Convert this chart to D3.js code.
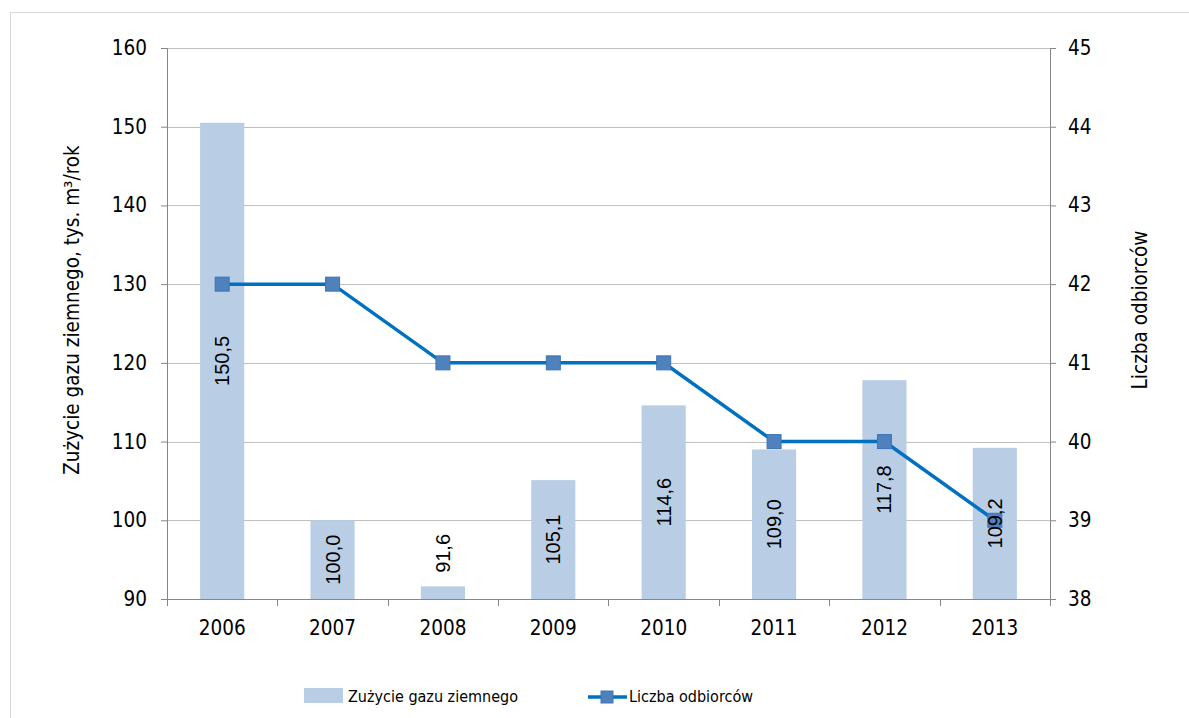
<!DOCTYPE html>
<html>
<head>
<meta charset="utf-8">
<script src="https://cdn.jsdelivr.net/npm/d3@7/dist/d3.min.js"></script>
<style>
  body { margin: 0; background: #fff; }
  svg { display: block; }
  .tick-label { font-family: "DejaVu Sans Condensed", "DejaVu Sans", Verdana, sans-serif; font-stretch: condensed; font-size: 20.5px; fill: #000; }
  .axis-title { font-family: "DejaVu Sans Condensed", "DejaVu Sans", Verdana, sans-serif; font-stretch: condensed; font-size: 20.5px; fill: #000; }
  .legend-label { font-family: "DejaVu Sans Condensed", "DejaVu Sans", Verdana, sans-serif; font-stretch: condensed; font-size: 16px; fill: #000; }
  .data-label { font-family: "Liberation Sans", Arial, sans-serif; font-size: 20px; fill: #000; }
</style>
</head>
<body>
<svg id="chart" width="1189" height="718"></svg>
<script>
// chart data
const years = ['2006', '2007', '2008', '2009', '2010', '2011', '2012', '2013'];
const gasUsage = [150.5, 100.0, 91.6, 105.1, 114.6, 109.0, 117.8, 109.2];
const customers = [42, 42, 41, 41, 41, 40, 40, 39];
const leftTicks = [90, 100, 110, 120, 130, 140, 150, 160];
const rightTicks = [38, 39, 40, 41, 42, 43, 44, 45];

const barColor = '#B9CDE5';
const lineColor = '#0070C0';
const markerFill = '#4F81BD';
const gridColor = '#C0C0C0';
const axisColor = '#868686';

const margin = { top: 48, right: 139, bottom: 119, left: 167 };
const W = 1189, H = 718;
const plotW = W - margin.left - margin.right;
const plotH = H - margin.top - margin.bottom;

const svg = d3.select('#chart');

// outer frame
svg.append('rect')
    .attr('x', 10.5).attr('y', 12.5)
    .attr('width', W + 20).attr('height', H + 20)
    .attr('fill', 'none')
    .attr('stroke', '#D9D9D9');

const g = svg.append('g')
    .attr('transform', `translate(${margin.left},${margin.top})`);

const x = d3.scaleBand()
    .domain(years)
    .range([0, plotW])
    .paddingInner(0.6)
    .paddingOuter(0.3);

const yLeft = d3.scaleLinear().domain([90, 160]).range([plotH, 0]);
const yRight = d3.scaleLinear().domain([38, 45]).range([plotH, 0]);

// gridlines
g.append('g')
    .selectAll('line')
    .data(leftTicks.slice(1))
    .join('line')
    .attr('x1', 0).attr('x2', plotW)
    .attr('y1', d => Math.round(yLeft(d)) + 0.5)
    .attr('y2', d => Math.round(yLeft(d)) + 0.5)
    .attr('stroke', gridColor);

// bars
g.append('g')
    .selectAll('rect')
    .data(gasUsage)
    .join('rect')
    .attr('x', (d, i) => x(years[i]))
    .attr('y', d => yLeft(d))
    .attr('width', x.bandwidth())
    .attr('height', d => plotH - yLeft(d))
    .attr('fill', barColor);

// axes
const styleAxis = sel => {
    sel.select('.domain').attr('stroke', axisColor);
    sel.selectAll('.tick line').attr('stroke', axisColor);
    sel.selectAll('.tick text').attr('class', 'tick-label').attr('fill', '#000');
};

g.append('g')
    .call(d3.axisLeft(yLeft).tickValues(leftTicks).tickSize(6).tickPadding(14).tickSizeOuter(6))
    .call(styleAxis);

g.append('g')
    .attr('transform', `translate(${plotW},0)`)
    .call(d3.axisRight(yRight).tickValues(rightTicks).tickFormat(d3.format('d'))
        .tickSize(6).tickPadding(12).tickSizeOuter(6))
    .call(styleAxis);

// x axis: ticks sit between categories
const xAxis = g.append('g').attr('transform', `translate(0,${plotH})`);
xAxis.append('line')
    .attr('x1', 0).attr('x2', plotW)
    .attr('y1', 0.5).attr('y2', 0.5)
    .attr('stroke', axisColor);
const step = x.step();
xAxis.selectAll('line.sep')
    .data(d3.range(years.length + 1))
    .join('line')
    .attr('class', 'sep')
    .attr('x1', i => Math.round(x(years[0]) - x.paddingOuter() * step + i * step) + 0.5)
    .attr('x2', i => Math.round(x(years[0]) - x.paddingOuter() * step + i * step) + 0.5)
    .attr('y1', 0).attr('y2', 7)
    .attr('stroke', axisColor);
xAxis.selectAll('text')
    .data(years)
    .join('text')
    .attr('class', 'tick-label')
    .attr('x', d => x(d) + x.bandwidth() / 2)
    .attr('y', 36)
    .attr('text-anchor', 'middle')
    .text(d => d);

// line series
const cx = i => x(years[i]) + x.bandwidth() / 2;
const line = d3.line()
    .x((d, i) => cx(i))
    .y(d => yRight(d));

g.append('path')
    .datum(customers)
    .attr('fill', 'none')
    .attr('stroke', lineColor)
    .attr('stroke-width', 3.5)
    .attr('d', line);

g.append('g')
    .selectAll('rect')
    .data(customers)
    .join('rect')
    .attr('x', (d, i) => cx(i) - 7)
    .attr('y', d => yRight(d) - 7)
    .attr('width', 14).attr('height', 14)
    .attr('fill', markerFill)
    .attr('stroke', '#3C74B8')
    .attr('stroke-width', 1);

// data labels (rotated)
const fmt = v => v.toFixed(1).replace('.', ',');
g.append('g')
    .selectAll('text')
    .data(gasUsage)
    .join('text')
    .attr('class', 'data-label')
    .attr('text-anchor', 'middle')
    .attr('dominant-baseline', 'central')
    .attr('transform', (d, i) => {
        const px = cx(i);
        const barH = plotH - yLeft(d);
        let py = yLeft(d) + barH / 2;
        if (barH < 50) py = yLeft(d) - 33;
        return `translate(${px},${py}) rotate(-90)`;
    })
    .text(fmt);

// axis titles
svg.append('text')
    .attr('class', 'axis-title')
    .attr('transform', 'translate(72,310) rotate(-90)')
    .attr('text-anchor', 'middle')
    .attr('dominant-baseline', 'central')
    .text('Zużycie gazu ziemnego, tys. m³/rok');

svg.append('text')
    .attr('class', 'axis-title')
    .attr('transform', 'translate(1140,310) rotate(-90)')
    .attr('text-anchor', 'middle')
    .attr('dominant-baseline', 'central')
    .text('Liczba odbiorców');

// legend
const legend = svg.append('g');
legend.append('rect')
    .attr('x', 304).attr('y', 688)
    .attr('width', 39).attr('height', 15)
    .attr('fill', barColor);
legend.append('text')
    .attr('class', 'legend-label')
    .attr('x', 348).attr('y', 702)
    .text('Zużycie gazu ziemnego');
legend.append('line')
    .attr('x1', 588).attr('x2', 627)
    .attr('y1', 697).attr('y2', 697)
    .attr('stroke', lineColor)
    .attr('stroke-width', 3.5);
legend.append('rect')
    .attr('x', 601).attr('y', 691)
    .attr('width', 12).attr('height', 12)
    .attr('fill', markerFill)
    .attr('stroke', '#3C74B8');
legend.append('text')
    .attr('class', 'legend-label')
    .attr('x', 629).attr('y', 702)
    .text('Liczba odbiorców');
</script>
</body>
</html>
